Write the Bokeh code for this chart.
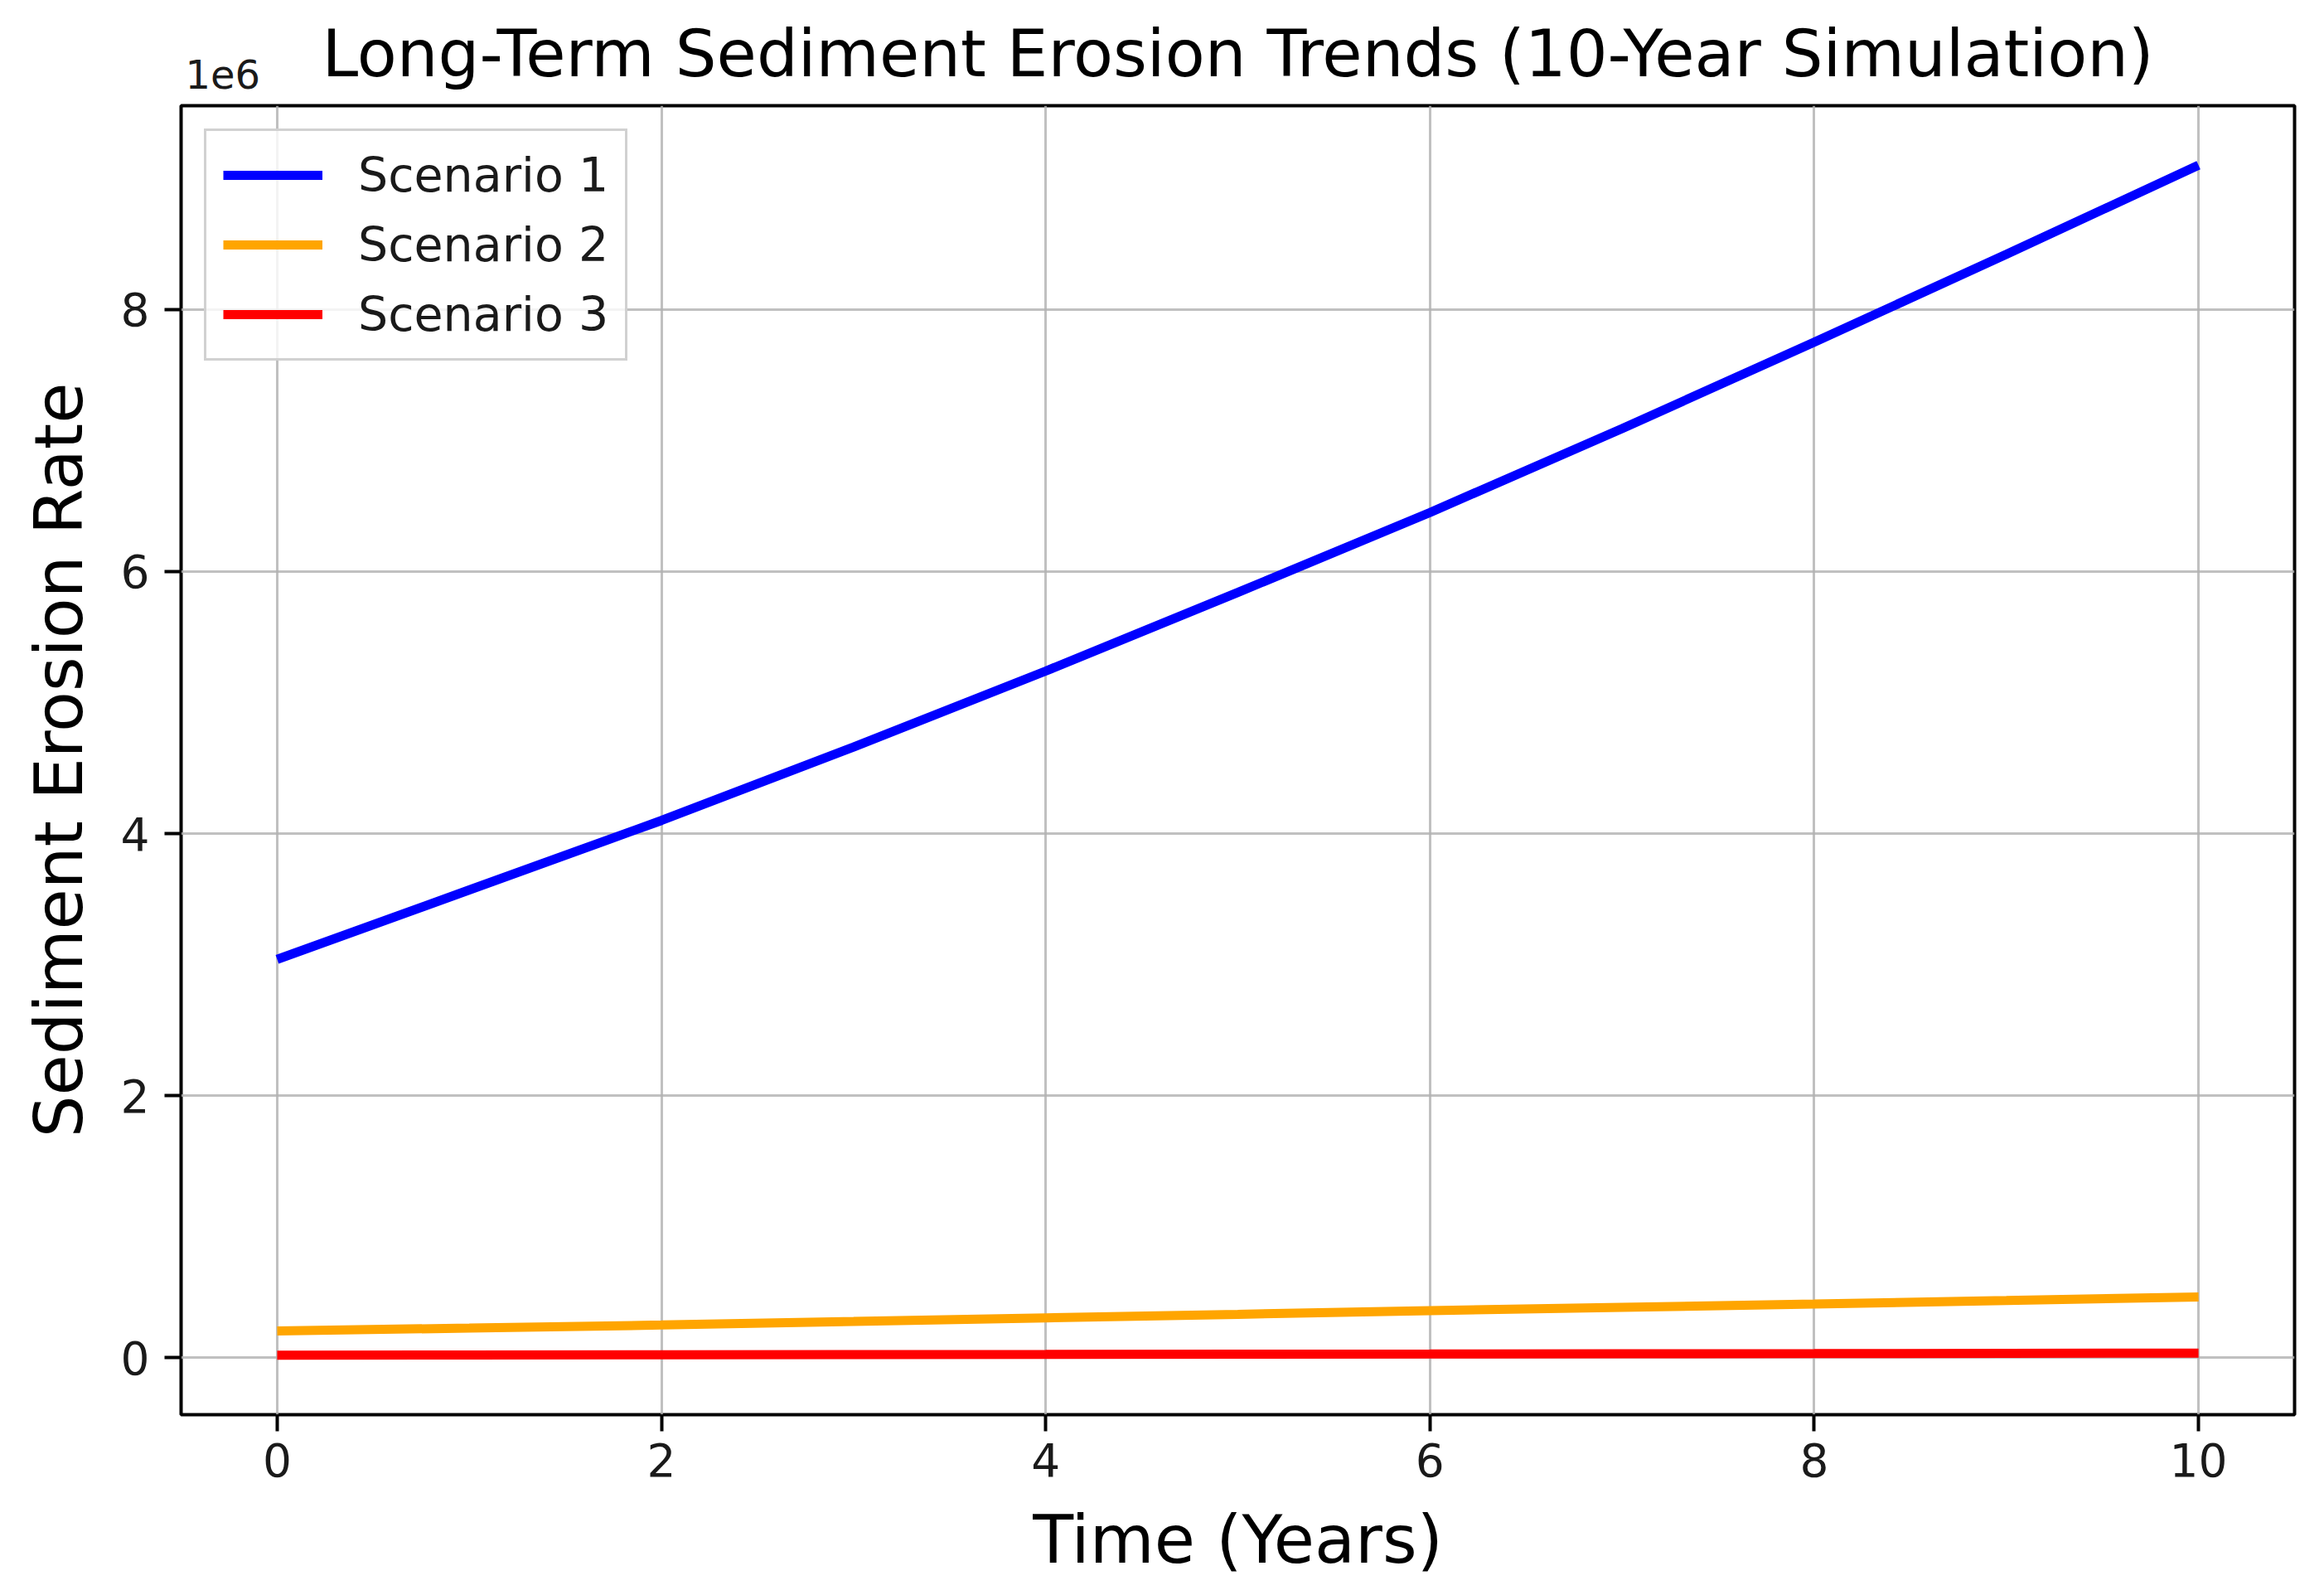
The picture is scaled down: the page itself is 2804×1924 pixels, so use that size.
from bokeh.plotting import figure
from bokeh.models import Range1d, FixedTicker, CustomJSTickFormatter, Legend, LegendItem, Label
from bokeh.embed import file_html
from bokeh.resources import INLINE

# ---- data ----
years = [0, 1, 2, 3, 4, 5, 6, 7, 8, 9, 10]
scenario_1 = [3.04e6, 3.57e6, 4.10e6, 4.66e6, 5.24e6, 5.84e6, 6.45e6, 7.09e6, 7.75e6, 8.42e6, 9.10e6]
scenario_2 = [0.205e6, 0.227e6, 0.250e6, 0.277e6, 0.305e6, 0.332e6, 0.360e6, 0.385e6, 0.410e6, 0.437e6, 0.465e6]
scenario_3 = [0.020e6, 0.022e6, 0.023e6, 0.025e6, 0.026e6, 0.028e6, 0.029e6, 0.031e6, 0.032e6, 0.034e6, 0.036e6]
series_names = ["Scenario 1", "Scenario 2", "Scenario 3"]
series_colors = ["#0000ff", "#ffa500", "#ff0000"]
x_ticks = [0, 2, 4, 6, 8, 10]
y_ticks = [0, 2e6, 4e6, 6e6, 8e6]

title_text = "Long-Term Sediment Erosion Trends (10-Year Simulation)"
x_label = "Time (Years)"
y_label = "Sediment Erosion Rate"
offset_text = "1e6"

FONT = "DejaVu Sans"

# layout (pixels)
W, H = 2788, 1908
BL, BR, BT, BB = 218, 20, 126, 202

# matplotlib-like 5% margins
all_y = scenario_1 + scenario_2 + scenario_3
ymin, ymax = min(all_y), max(all_y)
ypad = 0.05 * (ymax - ymin)
xpad = 0.05 * (max(years) - min(years))
x0, x1 = min(years) - xpad, max(years) + xpad
y0, y1 = ymin - ypad, ymax + ypad

p = figure(
    width=W, height=H,
    output_backend="svg", toolbar_location=None,
    x_range=Range1d(x0, x1),
    y_range=Range1d(y0, y1),
    min_border_left=BL, min_border_right=BR,
    min_border_top=BT, min_border_bottom=BB,
)

p.outline_line_color = "#000000"
p.outline_line_width = 4
p.background_fill_color = "white"
p.border_fill_color = "white"

for ax in (p.xaxis[0], p.yaxis[0]):
    ax.axis_line_color = None
    ax.major_tick_line_color = "#000000"
    ax.major_tick_line_width = 4
    ax.major_tick_out = 20
    ax.major_tick_in = 0
    ax.minor_tick_line_color = None
    ax.major_label_text_font = FONT
    ax.major_label_text_font_size = "55px"
    ax.major_label_text_color = "#1a1a1a"
    ax.axis_label_text_font = FONT
    ax.axis_label_text_font_size = "80px"
    ax.axis_label_text_font_style = "normal"
    ax.axis_label_text_color = "#000000"

p.xaxis.ticker = FixedTicker(ticks=x_ticks)
p.yaxis.ticker = FixedTicker(ticks=y_ticks)
p.yaxis.formatter = CustomJSTickFormatter(code="return (tick/1e6).toFixed(0);")
p.xaxis.axis_label = x_label
p.yaxis.axis_label = y_label
p.xaxis.major_label_standoff = 14
p.yaxis.major_label_standoff = 18
p.xaxis.axis_label_standoff = 27
p.yaxis.axis_label_standoff = 25

p.xgrid.ticker = FixedTicker(ticks=x_ticks)
p.ygrid.ticker = FixedTicker(ticks=y_ticks)
for g in (p.xgrid[0], p.ygrid[0]):
    g.grid_line_color = "#b0b0b0"
    g.grid_line_width = 3
    g.grid_line_alpha = 0.8

items = []
for name, ys, col in zip(series_names, [scenario_1, scenario_2, scenario_3], series_colors):
    r = p.line(years, ys, line_color=col, line_width=11)
    items.append(LegendItem(label=name, renderers=[r]))

legend = Legend(
    items=items, location="top_left", margin=28,
    label_text_font=FONT, label_text_font_size="57px", label_text_color="#1a1a1a",
    glyph_width=120, glyph_height=60, label_height=60,
    label_standoff=43, spacing=18, padding=20,
    border_line_color="#cccccc", border_line_width=3, border_line_alpha=0.9,
    background_fill_color="white", background_fill_alpha=0.8,
)
p.add_layout(legend)

# texts above the plot area (kept in a side panel so they are not clipped)
frame_center_x = BL + (W - BL - BR) / 2
title_label = Label(
    x=frame_center_x, y=64, x_units="canvas", y_units="canvas",
    text=title_text, text_font=FONT, text_font_size="78.5px", text_color="#000000",
    text_baseline="alphabetic", text_align="center",
)
p.add_layout(title_label, "above")

offset_label = Label(
    x=BL + 5, y=89, x_units="canvas", y_units="canvas",
    text=offset_text, text_font=FONT, text_font_size="48px", text_color="#1a1a1a",
    text_baseline="alphabetic", text_align="left",
)
p.add_layout(offset_label, "above")

open("out.html", "w").write(file_html(p, INLINE))
